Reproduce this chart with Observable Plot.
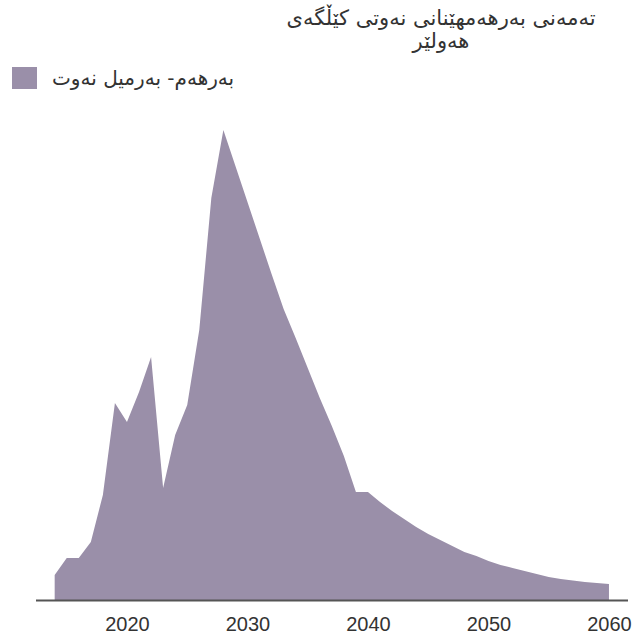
<!DOCTYPE html>
<html>
<head>
<meta charset="utf-8">
<script src="https://cdn.jsdelivr.net/npm/d3@7"></script>
<script src="https://cdn.jsdelivr.net/npm/@observablehq/plot@0.6"></script>
<style>
  html, body { margin: 0; padding: 0; background: #fff; }
  body { width: 638px; height: 636px; position: relative; overflow: hidden; font-family: "DejaVu Sans", sans-serif; }
  #title { position: absolute; left: 244px; width: 394px; top: 7px; text-align: center; direction: rtl; font-size: 21px; line-height: 23px; color: #333; }
  #legend { position: absolute; left: 12px; top: 66px; display: flex; align-items: center; gap: 15px; }
  #legend .sw { width: 25px; height: 22px; }
  #legend .lb { direction: rtl; font-size: 20px; color: #333; line-height: 24px; }
  #chart { position: absolute; left: 0; top: 100px; }
</style>
</head>
<body>
<div id="title">تەمەنی بەرهەمهێنانی نەوتی کێڵگەی<br>هەولێر</div>
<div id="legend"><div class="sw"></div><div class="lb">بەرهەم- بەرمیل نەوت</div></div>
<div id="chart"></div>
<script>
const years = [2014,2015,2016,2017,2018,2019,2020,2021,2022,2023,2024,2025,2026,2027,2028,2029,2030,
  2031,2032,2033,2034,2035,2036,2037,2038,2039,2040,2041,2042,2043,2044,2045,2046,2047,2048,2049,2050,
  2051,2052,2053,2054,2055,2056,2057,2058,2059,2060];
const production = [25,42,42,58,105,197,178,208,243,112,165,195,270,402,470,434,398,
  362,326,291,262,232,202,174,144,108,108,98,89,81,73,66,60,54,48,44,39,
  35,32,29,26,23,21,19.5,18,17,16];
const tickYears = [2020, 2030, 2040, 2050, 2060];
const seriesName = "بەرهەم- بەرمیل نەوت";
const fillColor = "#9a8fa9";

document.querySelector("#legend .sw").style.background = fillColor;

const data = years.map((y, i) => ({year: y, value: production[i]}));

const chart = Plot.plot({
  width: 638,
  height: 536,
  marginLeft: 36,
  marginRight: 10,
  marginTop: 0,
  marginBottom: 36,
  style: {fontFamily: "'Liberation Sans', Arial, sans-serif", fontSize: "20px", color: "#333", background: "transparent"},
  x: {domain: [2012.45, 2061.58], ticks: tickYears, tickFormat: d => String(d), tickSize: 0, tickPadding: 16, label: null},
  y: {domain: [0, 500], axis: null},
  marks: [
    Plot.areaY(data, {x: "year", y: "value", fill: fillColor, title: () => seriesName}),
    Plot.ruleY([0], {stroke: "#555", strokeWidth: 2})
  ]
});
document.getElementById("chart").appendChild(chart);
</script>
</body>
</html>
